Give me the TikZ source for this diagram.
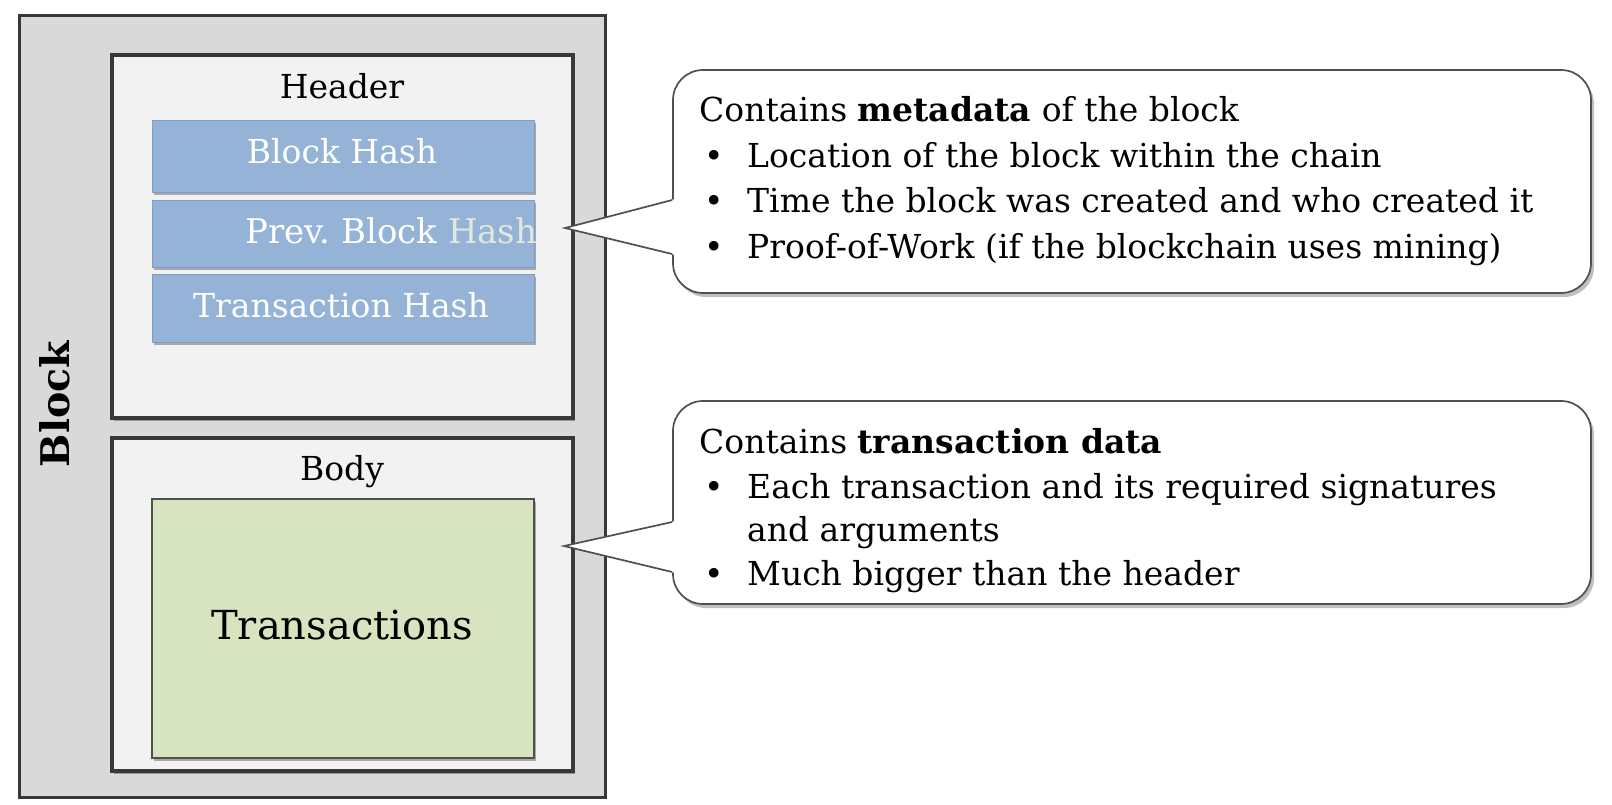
\documentclass[tikz,border=0pt]{standalone}
\usepackage{fontspec}
\setmainfont{DejaVu Serif}
\usetikzlibrary{shadows,calc}
\definecolor{outerfill}{HTML}{D9D9D9}
\definecolor{innerfill}{HTML}{F2F2F2}
\definecolor{darkline}{HTML}{383838}
\definecolor{bluefill}{HTML}{95B3D7}
\definecolor{blueline}{HTML}{7F9DC6}
\definecolor{greenfill}{HTML}{D8E4BF}
\definecolor{calline}{HTML}{505050}
\definecolor{hashtext}{HTML}{E1E8DC}
\tikzset{
  boxshadow/.style={drop shadow={shadow xshift=2pt,shadow yshift=-3pt,opacity=0.3,fill=black}},
  outerbox/.style={draw=darkline,fill=outerfill,line width=3pt,inner sep=0pt},
  partbox/.style={draw=darkline,fill=innerfill,line width=3.5pt,inner sep=0pt,boxshadow},
  hashbox/.style={draw=blueline,fill=bluefill,line width=1pt,inner sep=0pt,boxshadow},
  txbox/.style={draw=calline,fill=greenfill,line width=1.5pt,inner sep=0pt,boxshadow},
  calbox/.style={draw=calline,fill=white,line width=1.7pt,rounded corners=30pt,inner sep=0pt,
    drop shadow={shadow xshift=3pt,shadow yshift=-4pt,opacity=0.25,fill=black}},
  lbl/.style={inner sep=0pt,anchor=base,font=\fontsize{33}{40}\selectfont},
  wlbl/.style={lbl,text=white},
  cline/.style={inner sep=0pt,anchor=base west,font=\fontsize{33}{40}\selectfont},
  pointer/.style={draw=calline,line width=1.7pt,line join=miter},
}
\begin{document}
\begin{tikzpicture}[x=1pt,y=-1pt]
\useasboundingbox[fill=white] (0,0) rectangle (1612,804);

% outer block
\node[outerbox,minimum width=586,minimum height=782] (block) at (312,406) {};
\node[inner sep=0pt,rotate=90,font=\fontsize{39.5}{44}\selectfont\bfseries] (blocklbl) at (55,404) {Block};

% header
\node[partbox,minimum width=461,minimum height=363] (header) at (342.5,236.5) {};
\node[lbl] (headerlbl) at (342,98) {Header};
\node[hashbox,minimum width=382,minimum height=72] (bh) at (343,156) {};
\node[hashbox,minimum width=382,minimum height=67] (pbh) at (343,233.5) {};
\node[hashbox,minimum width=382,minimum height=68] (th) at (343,308) {};
\node[wlbl] (bhlbl) at (342,163) {Block Hash};
\node[wlbl,anchor=base west,font=\fontsize{34}{40}\selectfont] (pbhlbl) at (245,243) {Prev.\ Block \textcolor{hashtext}{Hash}};
\node[wlbl] (thlbl) at (341,317) {Transaction Hash};

% body
\node[partbox,minimum width=461,minimum height=333] (body) at (342.5,604.5) {};
\node[lbl] (bodylbl) at (342,480) {Body};
\node[txbox,minimum width=382,minimum height=259] (tx) at (343,628.5) {};
\node[lbl,font=\fontsize{40}{46}\selectfont] (txlbl) at (342,639) {Transactions};

% callout 1
\node[calbox,minimum width=918,minimum height=223] (c1) at (1132,181.5) {};
\coordinate (tip1) at (565,228);
\coordinate (c1a) at ($(c1.west)+(0,18.5)$);
\coordinate (c1b) at ($(c1.west)+(0,72.5)$);
\fill[white] ($(c1a)+(3,-1)$) -- (tip1) -- ($(c1b)+(3,1)$) -- cycle;
\draw[pointer] (c1a) -- (tip1) -- (c1b);
\node[cline] (c1l1) at (699,121) {Contains \textbf{metadata} of the block};
\node[cline] (c1b1) at (704,167) {•};
\node[cline] (c1l2) at (747,167) {Location of the block within the chain};
\node[cline] (c1b2) at (704,212) {•};
\node[cline] (c1l3) at (747,212) {Time the block was created and who created it};
\node[cline] (c1b3) at (704,258) {•};
\node[cline] (c1l4) at (747,258) {Proof-of-Work (if the blockchain uses mining)};

% callout 2
\node[calbox,minimum width=918,minimum height=203] (c2) at (1132,502.5) {};
\coordinate (tip2) at (564,546);
\coordinate (c2a) at ($(c2.west)+(0,19.5)$);
\coordinate (c2b) at ($(c2.west)+(0,69.5)$);
\fill[white] ($(c2a)+(3,-1)$) -- (tip2) -- ($(c2b)+(3,1)$) -- cycle;
\draw[pointer] (c2a) -- (tip2) -- (c2b);
\node[cline] (c2l1) at (699,453) {Contains \textbf{transaction data}};
\node[cline] (c2b1) at (704,498) {•};
\node[cline] (c2l2) at (747,498) {Each transaction and its required signatures};
\node[cline] (c2l3) at (747,541) {and arguments};
\node[cline] (c2b2) at (704,585) {•};
\node[cline] (c2l4) at (747,585) {Much bigger than the header};
\end{tikzpicture}
\end{document}
